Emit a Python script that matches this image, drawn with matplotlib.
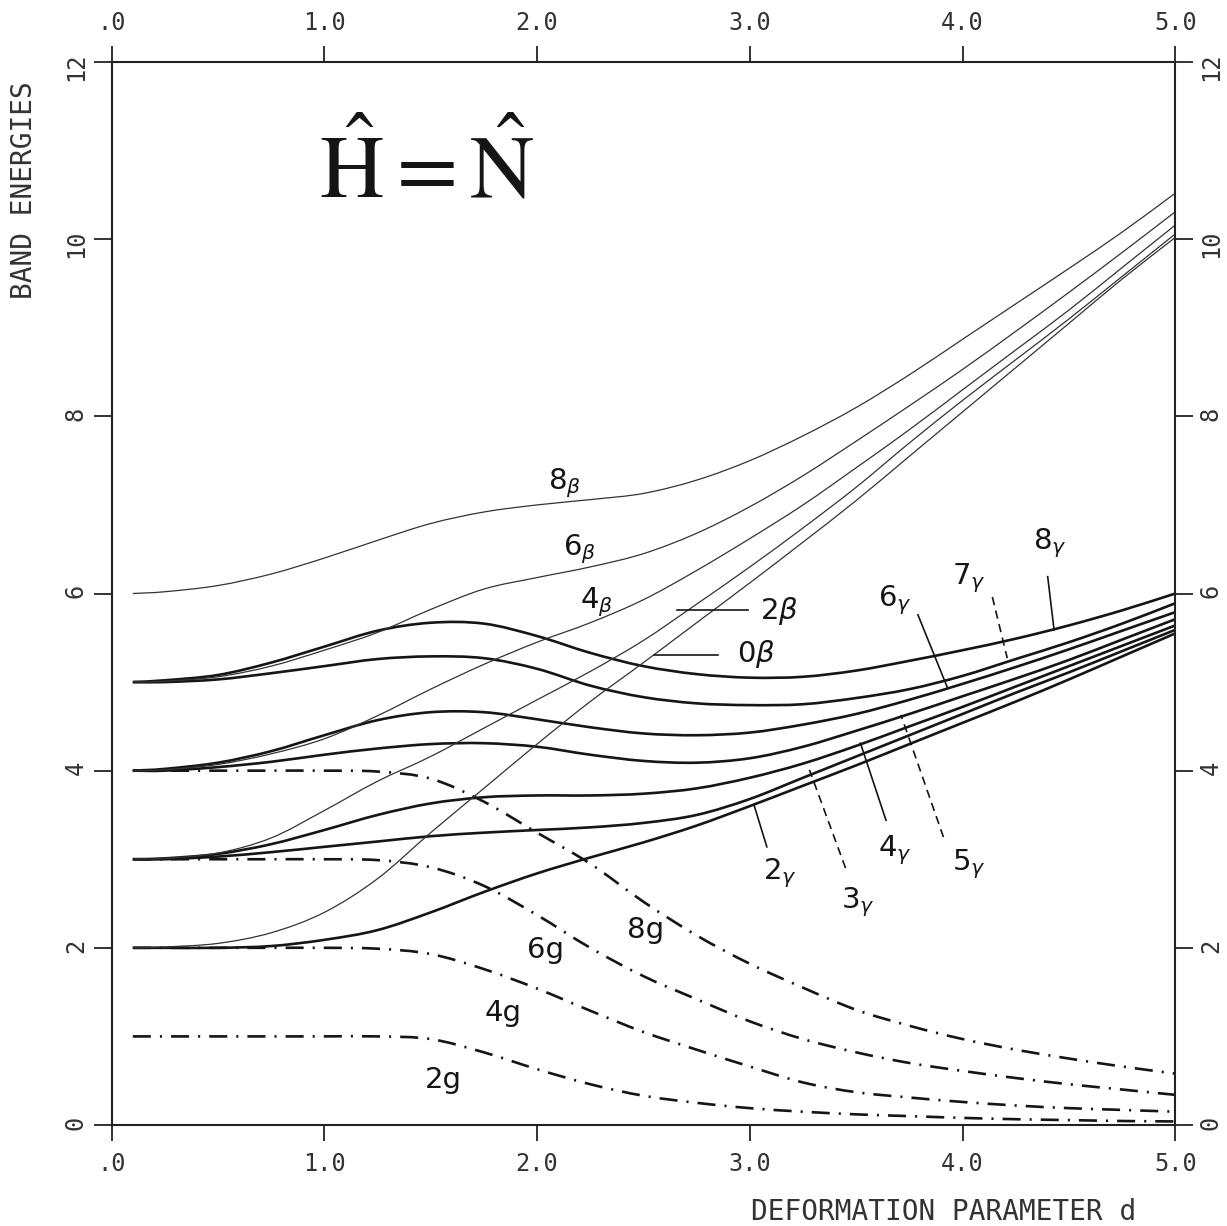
import numpy as np
import matplotlib
matplotlib.use("Agg")
import matplotlib.pyplot as plt
from matplotlib.path import Path
from matplotlib.patches import PathPatch

plt.rcParams['lines.scale_dashes'] = False

# deformation parameter grid shared by all bands
d = [0.1, 0.25, 0.5, 0.75, 1.0, 1.25, 1.5, 1.75, 2.0, 2.25, 2.5,
     2.75, 3.0, 3.25, 3.5, 3.75, 4.0, 4.25, 4.5, 4.75, 5.0]

# ground band (dash-dot)
g2 = [1.0, 1.0, 1.0, 1.0, 1.0, 1.0, 0.97, 0.82, 0.63, 0.46, 0.33,
      0.25, 0.19, 0.15, 0.12, 0.10, 0.08, 0.065, 0.055, 0.045, 0.04]
g4 = [2.0, 2.0, 2.0, 2.0, 2.0, 1.99, 1.93, 1.76, 1.54, 1.29, 1.05,
      0.85, 0.66, 0.48, 0.37, 0.31, 0.26, 0.22, 0.19, 0.17, 0.15]
g6 = [3.0, 3.0, 3.0, 3.0, 3.0, 2.99, 2.91, 2.70, 2.37, 2.00, 1.68,
      1.42, 1.17, 0.97, 0.82, 0.70, 0.61, 0.53, 0.46, 0.40, 0.34]
g8 = [4.0, 4.0, 4.0, 4.0, 4.0, 3.99, 3.91, 3.65, 3.30, 2.95, 2.52,
      2.14, 1.82, 1.55, 1.30, 1.12, 0.97, 0.85, 0.75, 0.66, 0.58]

# gamma band (thick solid)
gam2 = [2.0, 2.0, 2.0, 2.02, 2.09, 2.20, 2.40, 2.63, 2.84, 3.02, 3.19,
        3.38, 3.60, 3.83, 4.06, 4.30, 4.54, 4.78, 5.03, 5.29, 5.55]
gam3 = [3.0, 3.0, 3.03, 3.08, 3.14, 3.20, 3.26, 3.30, 3.33, 3.36, 3.41,
        3.50, 3.68, 3.92, 4.16, 4.40, 4.64, 4.88, 5.11, 5.35, 5.59]
gam4 = [3.0, 3.01, 3.06, 3.17, 3.33, 3.50, 3.63, 3.70, 3.72, 3.72, 3.74,
        3.80, 3.92, 4.08, 4.28, 4.50, 4.72, 4.95, 5.18, 5.41, 5.64]
gam5 = [4.0, 4.0, 4.04, 4.10, 4.18, 4.25, 4.30, 4.31, 4.27, 4.18, 4.11,
        4.09, 4.14, 4.27, 4.45, 4.64, 4.84, 5.04, 5.25, 5.48, 5.71]
gam6 = [4.0, 4.02, 4.09, 4.22, 4.40, 4.57, 4.66, 4.66, 4.58, 4.49, 4.42,
        4.40, 4.43, 4.52, 4.64, 4.80, 4.98, 5.17, 5.37, 5.58, 5.79]
gam7 = [5.0, 5.0, 5.03, 5.10, 5.18, 5.26, 5.29, 5.27, 5.15, 4.96, 4.83,
        4.76, 4.74, 4.75, 4.82, 4.92, 5.07, 5.26, 5.45, 5.66, 5.89]
gam8 = [5.0, 5.02, 5.08, 5.22, 5.40, 5.58, 5.67, 5.66, 5.52, 5.33, 5.18,
        5.09, 5.05, 5.06, 5.13, 5.24, 5.36, 5.49, 5.64, 5.81, 6.0]

# beta band (thin solid)
bet0 = [2.0, 2.01, 2.05, 2.17, 2.40, 2.78, 3.30, 3.80, 4.30, 4.78, 5.22,
        5.67, 6.12, 6.58, 7.05, 7.55, 8.05, 8.55, 9.05, 9.55, 10.02]
bet2 = [3.0, 3.01, 3.07, 3.24, 3.55, 3.88, 4.16, 4.48, 4.80, 5.12, 5.47,
        5.88, 6.30, 6.74, 7.20, 7.70, 8.18, 8.64, 9.10, 9.58, 10.06]
bet4 = [4.0, 4.01, 4.07, 4.19, 4.36, 4.62, 4.92, 5.20, 5.45, 5.67, 5.93,
        6.26, 6.62, 7.00, 7.42, 7.85, 8.30, 8.75, 9.20, 9.68, 10.16]
bet6 = [5.0, 5.01, 5.06, 5.18, 5.36, 5.56, 5.82, 6.05, 6.18, 6.30, 6.45,
        6.68, 6.98, 7.33, 7.72, 8.12, 8.53, 8.96, 9.40, 9.85, 10.31]
bet8 = [6.0, 6.02, 6.09, 6.22, 6.40, 6.60, 6.79, 6.92, 7.00, 7.06, 7.13,
        7.28, 7.50, 7.78, 8.10, 8.47, 8.87, 9.27, 9.67, 10.08, 10.52]

# level names: (text, x, y)
band_labels = [
    (r'$8_{\beta}$', 2.13, 7.25), (r'$6_{\beta}$', 2.20, 6.50),
    (r'$4_{\beta}$', 2.28, 5.90), (r'$2\beta$', 3.14, 5.80),
    (r'$0\beta$', 3.03, 5.32),
    (r'$2_{\gamma}$', 3.14, 2.84), (r'$3_{\gamma}$', 3.51, 2.52),
    (r'$4_{\gamma}$', 3.68, 3.10), (r'$5_{\gamma}$', 4.03, 2.94),
    (r'$6_{\gamma}$', 3.68, 5.93), (r'$7_{\gamma}$', 4.03, 6.17),
    (r'$8_{\gamma}$', 4.41, 6.57),
    ('2g', 1.56, 0.51), ('4g', 1.84, 1.26), ('6g', 2.04, 1.98), ('8g', 2.51, 2.20),
]
# pointer strokes from a name to its level: (x0, y0, x1, y1, dashed)
pointers = [
    (3.08, 3.14, 3.02, 3.61, False),
    (3.45, 2.90, 3.28, 4.01, True),
    (3.64, 3.44, 3.52, 4.31, False),
    (3.91, 3.25, 3.71, 4.63, True),
    (3.79, 5.76, 3.93, 4.93, False),
    (4.14, 5.96, 4.21, 5.27, True),
    (4.40, 6.19, 4.43, 5.59, False),
    (2.66, 5.81, 2.99, 5.81, False),
    (2.55, 5.31, 2.85, 5.31, False),
]

x_ticks = [0, 1, 2, 3, 4, 5]
x_ticklabels = ['.0', '1.0', '2.0', '3.0', '4.0', '5.0']
y_ticks = [0, 2, 4, 6, 8, 10, 12]
y_ticklabels = ['0', '2', '4', '6', '8', '10', '12']


def smooth_path(xs, ys):
    # bezier path through the points (catmull-rom tangents)
    pts = np.column_stack([xs, ys]).astype(float)
    tang = np.empty_like(pts)
    tang[1:-1] = (pts[2:] - pts[:-2]) / 2
    tang[0] = pts[1] - pts[0]
    tang[-1] = pts[-1] - pts[-2]
    verts = [pts[0]]
    codes = [Path.MOVETO]
    for i in range(len(pts) - 1):
        verts += [pts[i] + tang[i] / 3, pts[i + 1] - tang[i + 1] / 3, pts[i + 1]]
        codes += [Path.CURVE4] * 3
    return Path(verts, codes)


def curve(ax, ys, **kw):
    ax.add_patch(PathPatch(smooth_path(d, ys), fill=False, capstyle='butt', **kw))


fig = plt.figure(figsize=(12.27, 12.26), dpi=100)
ax = fig.add_axes([0.0909, 0.0824, 0.8670, 0.8670])
ax.set_xlim(0, 5)
ax.set_ylim(0, 12)

ink = '#151515'
for ys in (g2, g4, g6, g8):
    curve(ax, ys, edgecolor=ink, lw=1.9, linestyle=(0, (13, 6.5, 1.5, 6.5)))
for ys in (gam2, gam3, gam4, gam5, gam6, gam7, gam8):
    curve(ax, ys, edgecolor=ink, lw=1.9)
for ys in (bet0, bet2, bet4, bet6, bet8):
    curve(ax, ys, edgecolor='#333333', lw=0.9)

for x0, y0, x1, y1, dashed in pointers:
    ax.plot([x0, x1], [y0, y1], color=ink, lw=1.2,
            linestyle=(0, (6, 4)) if dashed else '-')

for txt, x, y in band_labels:
    ax.text(x, y, txt, fontsize=21, ha='center', va='center', color=ink,
            family='DejaVu Sans', math_fontfamily='dejavusans')

ax.text(1.48, 10.77, r'$\hat{\mathrm{H}}=\hat{\mathrm{N}}$', fontsize=64,
        ha='center', va='center', color=ink, math_fontfamily='stix')

ax.set_xticks(x_ticks)
ax.set_xticklabels(x_ticklabels)
ax.set_yticks(y_ticks)
ax.set_yticklabels(y_ticklabels)
ax.tick_params(axis='both', labelsize=17, labelfontfamily='DejaVu Sans Mono')
ax.tick_params(axis='x', direction='out', top=True, bottom=True,
               labeltop=True, labelbottom=True, length=11.5, width=1.4,
               pad=8, colors='#333333')
ax.tick_params(axis='y', direction='out', left=True, right=True,
               labelleft=True, labelright=True, labelrotation=90,
               length=13, width=1.4, pad=4, colors='#333333')
for sp in ax.spines.values():
    sp.set_linewidth(1.5)
    sp.set_color('#222222')

fig.text(24 / 1227, 1 - 190 / 1226, 'BAND ENERGIES', rotation=90,
         ha='center', va='center', family='DejaVu Sans Mono', fontsize=20,
         color='#333333')
fig.text(944 / 1227, 1 - 1212 / 1226, 'DEFORMATION PARAMETER d',
         ha='center', va='center', family='DejaVu Sans Mono', fontsize=20,
         color='#333333')

fig.savefig('out.png', dpi=100, facecolor='white')
